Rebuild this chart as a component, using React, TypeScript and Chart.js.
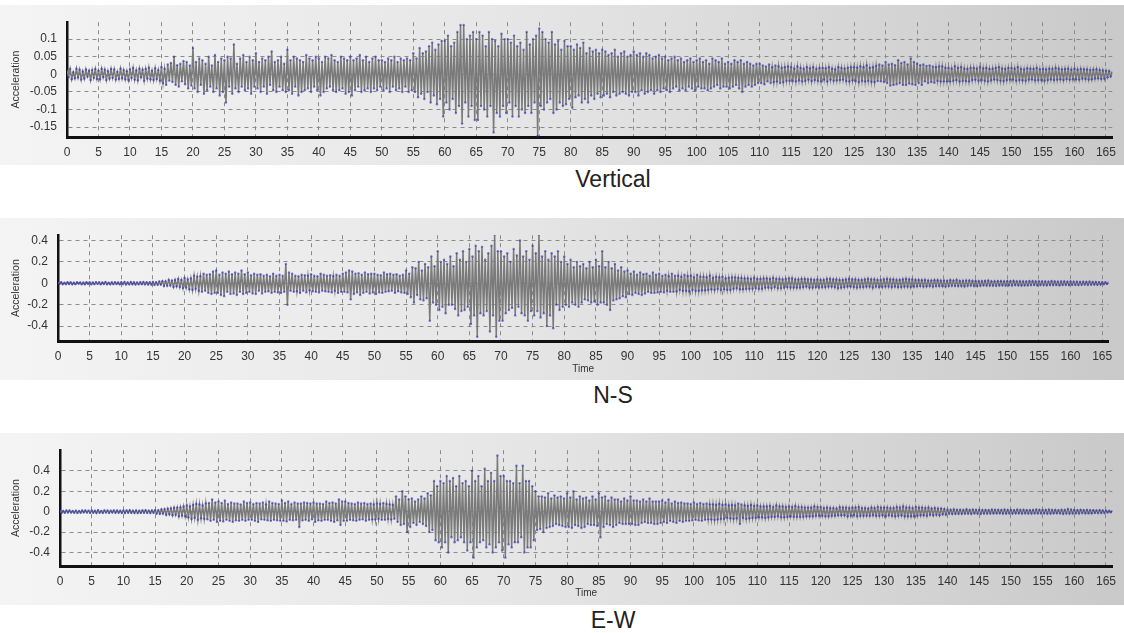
import React, { useEffect, useRef } from 'react';
import { Chart, registerables } from 'chart.js';

Chart.register(...registerables);

// sampling interval of the records (seconds)
const SAMPLE_STEP = 0.25;

const TIME_TICKS = [0, 5, 10, 15, 20, 25, 30, 35, 40, 45, 50, 55, 60, 65, 70, 75, 80, 85, 90, 95, 100, 105, 110, 115, 120, 125, 130, 135, 140, 145, 150, 155, 160, 165];
const VERTICAL_TICKS = [-0.15, -0.1, -0.05, 0, 0.05, 0.1];
const NS_TICKS = [-0.4, -0.2, 0, 0.2, 0.4];
const EW_TICKS = [-0.4, -0.2, 0, 0.2, 0.4];

const TITLES = ['Vertical', 'N-S', 'E-W'];
const Y_LABEL = 'Acceleration';
const X_LABEL = 'Time';

// one row = 5 s of record
const VERTICAL = [
  .012,-.008,.015,-.014,.006,-.011,.016,-.009,.013,-.015,.008,-.012,.014,-.006,.010,-.016,.012,-.010,.015,-.013,
  .010,-.014,.016,-.008,.013,-.016,.009,-.012,.015,-.010,.014,-.015,.007,-.013,.016,-.011,.012,-.014,.009,-.016,
  .014,-.010,.018,-.015,.011,-.017,.016,-.008,.013,-.018,.015,-.012,.019,-.014,.010,-.016,.017,-.013,.012,-.018,
  .020,-.025,.015,-.030,.028,-.018,.032,-.022,.050,-.030,.026,-.035,.030,-.020,.038,-.028,.035,-.040,.025,-.032,
  .075,-.040,.035,-.050,.045,-.030,.040,-.055,.030,-.045,.050,-.035,.025,-.050,.055,-.040,.035,-.060,.045,-.050,
  .040,-.080,.050,-.035,.045,-.055,.085,-.040,.030,-.050,.045,-.035,.055,-.045,.035,-.040,.050,-.055,.040,-.035,
  .060,-.040,.035,-.050,.045,-.035,.040,-.055,.050,-.030,.065,-.045,.035,-.050,.040,-.035,.050,-.045,.030,-.050,
  .070,-.045,.040,-.055,.050,-.035,.045,-.060,.040,-.050,.035,-.045,.055,-.040,.045,-.050,.040,-.035,.050,-.045,
  .045,-.060,.035,-.050,.050,-.040,.045,-.035,.055,-.045,.040,-.050,.035,-.045,.050,-.040,.045,-.055,.040,-.050,
  .050,-.060,.040,-.045,.045,-.035,.055,-.050,.040,-.045,.050,-.040,.035,-.050,.045,-.040,.050,-.045,.040,-.035,
  .040,-.045,.035,-.040,.045,-.050,.040,-.035,.050,-.045,.035,-.040,.045,-.050,.040,-.035,.045,-.050,.040,-.045,
  .060,-.050,.045,-.065,.075,-.055,.060,-.070,.065,-.050,.080,-.080,.090,-.060,.070,-.085,.085,-.070,.095,-.120,
  .095,-.080,.110,-.100,.080,-.070,.090,-.110,.120,-.090,.140,-.140,.140,-.080,.100,-.120,.110,-.090,.120,-.130,
  .100,-.130,.120,-.090,.110,-.100,.080,-.120,.120,-.090,.100,-.165,.095,-.110,.080,-.120,.115,-.090,.100,-.110,
  .100,-.080,.090,-.120,.110,-.090,.080,-.120,.090,-.100,.070,-.110,.120,-.090,.085,-.110,.100,-.080,.110,-.175,
  .130,-.090,.120,-.100,.100,-.080,.090,-.070,.120,-.110,.085,-.100,.095,-.080,.070,-.090,.095,-.085,.080,-.070,
  .080,-.095,.070,-.065,.085,-.060,.075,-.080,.090,-.070,.060,-.080,.075,-.060,.065,-.070,.070,-.055,.060,-.065,
  .070,-.060,.065,-.055,.055,-.065,.060,-.050,.070,-.060,.050,-.055,.060,-.050,.065,-.055,.050,-.060,.055,-.050,
  .065,-.050,.055,-.060,.060,-.045,.050,-.055,.060,-.050,.055,-.045,.045,-.055,.050,-.045,.055,-.050,.045,-.040,
  .050,-.045,.040,-.050,.045,-.040,.050,-.035,.040,-.045,.045,-.040,.035,-.045,.040,-.035,.045,-.040,.035,-.045,
  .040,-.035,.045,-.040,.035,-.040,.040,-.045,.030,-.040,.045,-.035,.040,-.030,.035,-.040,.045,-.035,.030,-.035,
  .035,-.040,.030,-.035,.040,-.030,.035,-.040,.040,-.050,.030,-.035,.035,-.030,.030,-.035,.025,-.030,.030,-.025,
  .030,-.025,.025,-.028,.022,-.020,.028,-.025,.020,-.022,.025,-.020,.022,-.025,.018,-.022,.020,-.018,.022,-.018,
  .020,-.018,.016,-.020,.022,-.017,.018,-.020,.015,-.018,.020,-.015,.017,-.019,.020,-.016,.015,-.018,.018,-.020,
  .018,-.015,.017,-.020,.020,-.015,.016,-.018,.014,-.017,.020,-.016,.018,-.015,.016,-.019,.018,-.020,.020,-.017,
  .020,-.018,.019,-.022,.022,-.018,.020,-.020,.025,-.018,.018,-.021,.020,-.022,.024,-.019,.028,-.020,.025,-.022,
  .035,-.025,.028,-.032,.030,-.030,.026,-.028,.040,-.025,.032,-.030,.035,-.030,.028,-.026,.045,-.028,.035,-.030,
  .030,-.025,.026,-.030,.028,-.020,.024,-.025,.025,-.022,.022,-.024,.020,-.018,.022,-.020,.022,-.020,.018,-.020,
  .018,-.020,.016,-.018,.022,-.016,.018,-.020,.020,-.018,.016,-.019,.015,-.020,.018,-.016,.018,-.015,.016,-.018,
  .020,-.016,.017,-.018,.018,-.020,.015,-.017,.016,-.014,.018,-.016,.020,-.018,.016,-.019,.015,-.016,.018,-.015,
  .018,-.015,.016,-.018,.020,-.016,.015,-.017,.014,-.018,.017,-.015,.016,-.014,.015,-.017,.018,-.016,.014,-.016,
  .015,-.018,.014,-.016,.016,-.014,.015,-.016,.018,-.015,.016,-.014,.014,-.016,.015,-.013,.016,-.015,.013,-.014,
  .016,-.014,.013,-.015,.015,-.012,.014,-.013,.014,-.015,.012,-.014,.013,-.012,.014,-.011,.012,-.013,.011,-.012,
  .010,-.008,.009,-.006,.005,
];

const NS = [
  .008,-.006,.010,-.009,.005,-.008,.010,-.007,.009,-.010,.006,-.008,.009,-.005,.008,-.010,.007,-.009,.010,-.006,
  .009,-.010,.007,-.008,.011,-.006,.009,-.010,.008,-.007,.012,-.009,.006,-.010,.009,-.008,.011,-.007,.008,-.010,
  .010,-.008,.012,-.011,.007,-.010,.012,-.009,.010,-.012,.008,-.010,.011,-.008,.012,-.010,.009,-.011,.010,-.012,
  .012,-.015,.010,-.014,.016,-.012,.020,-.025,.018,-.022,.030,-.020,.025,-.035,.030,-.028,.040,-.035,.030,-.045,
  .050,-.040,.035,-.055,.045,-.060,.070,-.050,.060,-.070,.065,-.080,.090,-.070,.080,-.090,.085,-.100,.110,-.090,
  .120,-.090,.080,-.110,.100,-.120,.090,-.080,.110,-.100,.085,-.095,.100,-.110,.090,-.080,.120,-.100,.085,-.090,
  .100,-.080,.075,-.095,.090,-.100,.080,-.070,.085,-.095,.070,-.080,.080,-.075,.065,-.090,.090,-.080,.070,-.085,
  .080,-.090,.070,-.080,.180,-.200,.100,-.070,.090,-.080,.070,-.075,.065,-.090,.080,-.070,.075,-.085,.070,-.065,
  .085,-.075,.070,-.080,.065,-.085,.090,-.070,.080,-.075,.070,-.080,.075,-.085,.065,-.070,.080,-.090,.070,-.080,
  .090,-.080,.100,-.085,.120,-.150,.110,-.100,.090,-.085,.095,-.110,.080,-.090,.100,-.080,.085,-.095,.090,-.085,
  .090,-.100,.080,-.085,.075,-.090,.100,-.080,.085,-.075,.090,-.070,.080,-.090,.085,-.075,.070,-.085,.080,-.090,
  .120,-.100,.090,-.130,.150,-.180,.140,-.110,.200,-.150,.120,-.160,.180,-.140,.150,-.350,.250,-.180,.160,-.200,
  .300,-.250,.200,-.220,.220,-.280,.180,-.200,.250,-.200,.160,-.240,.280,-.300,.220,-.260,.300,-.250,.200,-.220,
  .320,-.380,.250,-.300,.350,-.500,.300,-.280,.340,-.300,.220,-.260,.280,-.450,.350,-.300,.450,-.500,.300,-.350,
  .300,-.350,.250,-.280,.280,-.250,.200,-.230,.320,-.300,.260,-.220,.400,-.280,.250,-.300,.300,-.350,.220,-.260,
  .350,-.300,.280,-.260,.450,-.320,.250,-.280,.300,-.400,.220,-.300,.280,-.420,.250,-.200,.300,-.250,.200,-.220,
  .250,-.200,.180,-.220,.220,-.180,.150,-.200,.200,-.220,.160,-.180,.180,-.150,.140,-.160,.200,-.180,.150,-.170,
  .220,-.200,.160,-.180,.300,-.180,.150,-.200,.200,-.250,.140,-.160,.180,-.150,.120,-.140,.150,-.120,.110,-.130,
  .120,-.100,.090,-.110,.110,-.090,.080,-.100,.100,-.110,.085,-.095,.090,-.080,.070,-.090,.100,-.090,.080,-.085,
  .090,-.080,.070,-.085,.080,-.070,.065,-.080,.090,-.080,.070,-.075,.070,-.060,.060,-.070,.080,-.070,.065,-.075,
  .070,-.060,.055,-.070,.080,-.070,.060,-.065,.060,-.065,.055,-.060,.070,-.055,.050,-.060,.060,-.050,.055,-.060,
  .060,-.055,.045,-.060,.050,-.060,.055,-.050,.055,-.045,.050,-.055,.050,-.055,.045,-.050,.045,-.050,.040,-.050,
  .050,-.045,.040,-.050,.040,-.050,.045,-.040,.045,-.040,.040,-.045,.050,-.035,.040,-.045,.040,-.045,.035,-.040,
  .040,-.035,.045,-.040,.045,-.040,.035,-.040,.035,-.040,.040,-.035,.040,-.030,.035,-.040,.035,-.040,.030,-.035,
  .035,-.040,.030,-.035,.030,-.035,.040,-.030,.040,-.030,.035,-.035,.035,-.045,.030,-.040,.030,-.035,.035,-.030,
  .040,-.030,.035,-.035,.035,-.040,.030,-.035,.030,-.035,.035,-.030,.040,-.030,.035,-.040,.035,-.030,.030,-.035,
  .030,-.035,.035,-.030,.040,-.030,.035,-.035,.035,-.030,.030,-.035,.030,-.035,.035,-.030,.040,-.030,.035,-.035,
  .035,-.030,.030,-.028,.030,-.025,.028,-.030,.030,-.028,.025,-.026,.025,-.030,.028,-.025,.028,-.025,.024,-.026,
  .025,-.030,.022,-.025,.028,-.022,.025,-.024,.030,-.025,.022,-.025,.022,-.028,.025,-.022,.025,-.020,.022,-.024,
  .022,-.025,.020,-.022,.020,-.018,.022,-.020,.025,-.020,.018,-.021,.018,-.022,.020,-.019,.020,-.018,.018,-.020,
  .020,-.018,.019,-.020,.022,-.016,.018,-.019,.018,-.020,.017,-.018,.016,-.018,.019,-.017,.020,-.015,.017,-.018,
  .018,-.015,.016,-.017,.016,-.018,.015,-.016,.020,-.016,.017,-.015,.015,-.018,.016,-.015,.016,-.014,.015,-.016,
  .016,-.014,.014,-.015,.015,-.016,.013,-.014,.014,-.012,.013,-.014,.015,-.013,.013,-.012,.012,-.014,.011,-.012,
  .010,-.008,.009,-.006,.005,
];

const EW = [
  .010,-.012,.007,-.010,.012,-.008,.011,-.009,.006,-.011,.010,-.012,.008,-.010,.012,-.007,.011,-.009,.010,-.012,
  .012,-.010,.009,-.013,.014,-.011,.008,-.012,.013,-.009,.011,-.012,.010,-.008,.013,-.011,.012,-.010,.009,-.013,
  .011,-.013,.012,-.010,.014,-.011,.010,-.013,.012,-.014,.009,-.012,.013,-.010,.014,-.012,.010,-.013,.012,-.011,
  .015,-.018,.014,-.020,.022,-.018,.025,-.030,.028,-.025,.032,-.035,.038,-.030,.040,-.045,.042,-.038,.050,-.045,
  .060,-.055,.050,-.070,.065,-.060,.075,-.080,.070,-.065,.060,-.070,.080,-.075,.085,-.090,.120,-.080,.090,-.100,
  .100,-.090,.085,-.095,.110,-.080,.075,-.090,.090,-.100,.080,-.085,.080,-.090,.070,-.080,.100,-.090,.085,-.080,
  .090,-.080,.075,-.090,.085,-.100,.080,-.075,.090,-.080,.070,-.085,.100,-.090,.085,-.080,.080,-.085,.075,-.090,
  .110,-.090,.085,-.095,.100,-.080,.075,-.085,.090,-.080,.080,-.150,.080,-.085,.090,-.080,.085,-.090,.080,-.075,
  .090,-.100,.080,-.085,.080,-.090,.075,-.080,.100,-.080,.085,-.090,.090,-.100,.080,-.085,.120,-.130,.100,-.090,
  .100,-.090,.085,-.080,.080,-.085,.075,-.090,.090,-.080,.080,-.075,.085,-.090,.075,-.080,.080,-.075,.070,-.075,
  .080,-.070,.075,-.080,.085,-.080,.075,-.070,.070,-.075,.065,-.070,.150,-.100,.120,-.130,.200,-.120,.150,-.200,
  .120,-.150,.130,-.110,.100,-.130,.120,-.100,.150,-.120,.130,-.140,.180,-.200,.160,-.180,.300,-.280,.250,-.300,
  .300,-.350,.280,-.300,.350,-.400,.300,-.250,.330,-.300,.250,-.280,.350,-.250,.280,-.300,.300,-.380,.250,-.300,
  .400,-.450,.300,-.350,.350,-.300,.250,-.280,.420,-.350,.300,-.320,.380,-.400,.300,-.350,.550,-.300,.350,-.380,
  .350,-.450,.300,-.320,.300,-.350,.280,-.300,.450,-.300,.280,-.250,.450,-.400,.300,-.350,.300,-.350,.250,-.280,
  .200,-.180,.150,-.170,.150,-.200,.140,-.160,.180,-.150,.130,-.140,.160,-.120,.140,-.130,.150,-.140,.130,-.150,
  .180,-.150,.140,-.160,.200,-.130,.120,-.140,.150,-.160,.130,-.150,.140,-.120,.110,-.130,.150,-.130,.120,-.140,
  .180,-.250,.140,-.150,.150,-.120,.110,-.130,.140,-.150,.120,-.130,.120,-.110,.100,-.120,.130,-.120,.110,-.120,
  .150,-.120,.110,-.130,.110,-.130,.100,-.110,.120,-.100,.100,-.110,.130,-.110,.100,-.120,.100,-.120,.100,-.110,
  .110,-.100,.090,-.110,.120,-.090,.080,-.100,.100,-.110,.085,-.090,.090,-.100,.080,-.090,.080,-.090,.075,-.085,
  .090,-.080,.075,-.085,.085,-.090,.075,-.080,.080,-.075,.070,-.075,.070,-.080,.065,-.075,.075,-.070,.065,-.070,
  .070,-.060,.060,-.065,.065,-.070,.060,-.065,.080,-.120,.070,-.060,.060,-.070,.055,-.065,.065,-.060,.055,-.060,
  .060,-.055,.050,-.055,.050,-.060,.050,-.055,.055,-.050,.045,-.050,.060,-.045,.050,-.055,.050,-.055,.045,-.050,
  .050,-.045,.045,-.050,.055,-.050,.045,-.050,.045,-.050,.040,-.045,.040,-.045,.040,-.045,.050,-.040,.045,-.040,
  .045,-.040,.035,-.045,.040,-.045,.035,-.040,.035,-.040,.030,-.035,.045,-.035,.040,-.035,.040,-.045,.035,-.040,
  .040,-.035,.040,-.045,.045,-.040,.035,-.040,.035,-.040,.030,-.040,.040,-.035,.035,-.040,.045,-.040,.040,-.035,
  .040,-.045,.040,-.035,.035,-.040,.035,-.045,.045,-.040,.040,-.035,.050,-.045,.040,-.045,.040,-.045,.035,-.045,
  .045,-.040,.040,-.035,.040,-.035,.035,-.040,.040,-.030,.030,-.035,.035,-.030,.030,-.035,.030,-.025,.025,-.028,
  .020,-.018,.018,-.022,.022,-.020,.018,-.020,.018,-.020,.016,-.018,.022,-.018,.016,-.020,.020,-.016,.018,-.019,
  .018,-.020,.016,-.018,.016,-.018,.014,-.017,.020,-.016,.018,-.015,.018,-.015,.016,-.018,.020,-.018,.017,-.016,
  .016,-.018,.015,-.016,.020,-.015,.016,-.018,.018,-.016,.015,-.017,.015,-.018,.017,-.015,.020,-.016,.018,-.015,
  .018,-.016,.016,-.018,.020,-.018,.017,-.015,.016,-.015,.014,-.016,.018,-.020,.016,-.017,.025,-.018,.020,-.017,
  .016,-.015,.015,-.017,.018,-.014,.015,-.016,.016,-.015,.014,-.016,.014,-.012,.013,-.014,.015,-.013,.012,-.014,
  .010,-.008,.009,-.006,.005,
];

const FONT = '"Liberation Sans", Arial, sans-serif';

type PanelCfg = {
  values: number[];
  yTicks: number[];
  yMin: number;
  yMax: number;
  top: number;
  height: number;
  axisWidth: number;
  padRight: number;
  padTop: number;
  xAxisHeight: number;
  showTime: boolean;
  timePad: number;
  title: string;
  titleY: number;
};

const PANELS: PanelCfg[] = [
  { values: VERTICAL, yTicks: VERTICAL_TICKS, yMin: -0.178, yMax: 0.148, top: 5, height: 160, axisWidth: 67, padRight: 5, padTop: 3, xAxisHeight: 28, showTime: false, timePad: 0, title: TITLES[0], titleY: 179 },
  { values: NS, yTicks: NS_TICKS, yMin: -0.539, yMax: 0.449, top: 218, height: 162, axisWidth: 58, padRight: 15.5, padTop: 2, xAxisHeight: 39, showTime: true, timePad: 4.6, title: TITLES[1], titleY: 395 },
  { values: EW, yTicks: EW_TICKS, yMin: -0.532, yMax: 0.602, top: 433, height: 172, axisWidth: 60, padRight: 3.6, padTop: 4, xAxisHeight: 39, showTime: true, timePad: 5.6, title: TITLES[2], titleY: 620 },
];

const bgPlugin = {
  id: 'panelBg',
  beforeDraw(c: any) {
    const { ctx, width, height } = c;
    const g = ctx.createLinearGradient(0, 0, width, 0);
    g.addColorStop(0, '#f4f4f4');
    g.addColorStop(0.45, '#e6e6e6');
    g.addColorStop(1, '#c9c9c9');
    ctx.save();
    ctx.fillStyle = g;
    ctx.fillRect(0, 0, width, height);
    ctx.restore();
  },
};

function Panel({ cfg }: { cfg: PanelCfg }) {
  const ref = useRef<HTMLCanvasElement>(null);
  useEffect(() => {
    if (!ref.current) return;
    const data = cfg.values.map((v, i) => ({ x: i * SAMPLE_STEP, y: v }));
    const chart = new Chart(ref.current, {
      type: 'line',
      data: {
        datasets: [
          {
            data,
            borderColor: '#7a7a7a',
            borderWidth: 1.5,
            pointRadius: 1.2,
            pointBackgroundColor: 'rgba(45,45,180,0.6)',
            pointBorderWidth: 0,
            tension: 0,
          },
        ],
      },
      options: {
        animation: false,
        responsive: false,
        events: [],
        layout: { padding: { left: 0, right: cfg.padRight, top: cfg.padTop, bottom: 0 } },
        plugins: { legend: { display: false }, tooltip: { enabled: false }, title: { display: false } },
        scales: {
          x: {
            type: 'linear',
            min: 0,
            max: 166,
            afterBuildTicks: (s: any) => {
              s.ticks = TIME_TICKS.map((v) => ({ value: v }));
            },
            afterFit: (s: any) => {
              s.height = cfg.xAxisHeight;
            },
            ticks: {
              autoSkip: false,
              maxRotation: 0,
              padding: 8,
              color: '#333',
              font: { family: FONT, size: 12 },
              callback: (v: any) => String(v),
            },
            grid: { color: '#8a8a8a', lineWidth: 1, drawTicks: false },
            border: { display: true, color: '#111', width: 3, dash: [4, 4] },
            title: {
              display: cfg.showTime,
              text: X_LABEL,
              color: '#333',
              font: { family: FONT, size: 10 },
              padding: { top: 0, bottom: cfg.timePad },
            },
          },
          y: {
            type: 'linear',
            min: cfg.yMin,
            max: cfg.yMax,
            afterBuildTicks: (s: any) => {
              s.ticks = cfg.yTicks.map((v) => ({ value: v }));
            },
            afterFit: (s: any) => {
              s.width = cfg.axisWidth;
            },
            ticks: {
              padding: 10,
              color: '#333',
              font: { family: FONT, size: 12 },
              callback: (v: any) => String(Number(Number(v).toFixed(2))),
            },
            grid: { color: '#8a8a8a', lineWidth: 1, drawTicks: false },
            border: { display: true, color: '#111', width: 2.5, dash: [4, 4] },
            title: {
              display: true,
              text: Y_LABEL,
              color: '#333',
              font: { family: FONT, size: 10.5 },
              padding: { top: 9.5, bottom: 0 },
            },
          },
        },
      },
      plugins: [bgPlugin],
    } as any);
    return () => chart.destroy();
  }, [cfg]);
  return (
    <>
      <div style={{ position: 'absolute', left: 0, top: cfg.top, width: 1124, height: cfg.height }}>
        <canvas ref={ref} width={1124} height={cfg.height} style={{ display: 'block' }} />
      </div>
      <div
        style={{
          position: 'absolute',
          left: 0,
          width: 1226,
          top: cfg.titleY - 14,
          height: 28,
          lineHeight: '28px',
          textAlign: 'center',
          fontFamily: FONT,
          fontSize: 23,
          color: '#222',
        }}
      >
        {cfg.title}
      </div>
    </>
  );
}

export default function App() {
  return (
    <div style={{ position: 'fixed', left: 0, top: 0, width: 1124, height: 633, background: '#fff', overflow: 'hidden' }}>
      {PANELS.map((p) => (
        <Panel key={p.title} cfg={p} />
      ))}
    </div>
  );
}
